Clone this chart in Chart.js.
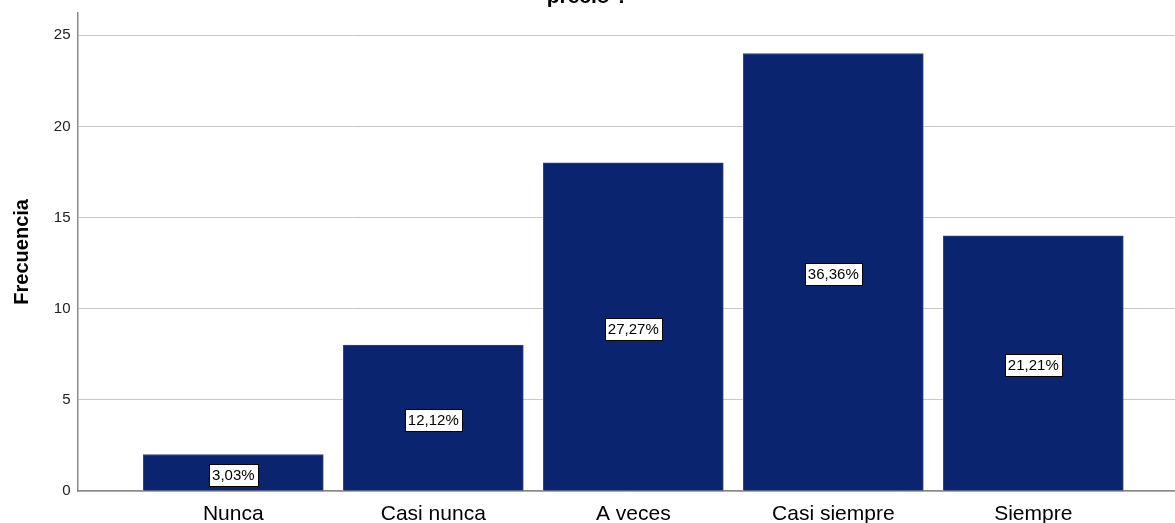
<!DOCTYPE html>
<html>
<head>
<meta charset="utf-8">
<script src="https://cdn.jsdelivr.net/npm/chart.js@4.4.1/dist/chart.umd.min.js"></script>
<style>
    html, body { margin: 0; padding: 0; background: #ffffff; overflow: hidden; }
    #wrap { position: absolute; left: 0; top: -13px; width: 1175px; height: 536px; }
</style>
</head>
<body>
<div id="wrap"><canvas id="freqChart"></canvas></div>
<script>
const categories = ["Nunca", "Casi nunca", "A veces", "Casi siempre", "Siempre"];
const frequencies = [2, 8, 18, 24, 14];
const percentLabels = ["3,03%", "12,12%", "27,27%", "36,36%", "21,21%"];
const yTicks = [0, 5, 10, 15, 20, 25];

const barColor = "#0b2470";
const barEdge = "#33468a";

/*
 * white boxed percentage in the middle of each bar
 */
const percentBoxes = {
    id: "percentBoxes",
    afterDatasetsDraw(chart) {
        const ctx = chart.ctx;
        const meta = chart.getDatasetMeta(0);
        ctx.save();
        ctx.font = "15px 'Liberation Sans'";
        ctx.textAlign = "center";
        ctx.textBaseline = "middle";
        meta.data.forEach((bar, i) => {
            const text = percentLabels[i];
            const cx = bar.x;
            const cy = (bar.y + bar.base) / 2 + 2;
            const w = Math.round(ctx.measureText(text).width + 6);
            const h = 22;
            const left = Math.round(cx - w / 2) + 0.5;
            const top = Math.round(cy - h / 2) + 0.5;
            ctx.fillStyle = "#ffffff";
            ctx.fillRect(left, top, w, h);
            ctx.strokeStyle = "#000000";
            ctx.lineWidth = 1;
            ctx.strokeRect(left, top, w, h);
            ctx.fillStyle = "#000000";
            ctx.fillText(text, cx, cy + 1);
        });
        ctx.restore();
    }
};

const ctx = document.getElementById("freqChart");

new Chart(ctx, {
    type: "bar",
    data: {
        datasets: [
            {
                data: frequencies.map((v, i) => ({ x: i, y: v })),
                backgroundColor: barColor,
                borderColor: barEdge,
                borderWidth: 1,
                barThickness: 180
            }
        ]
    },
    options: {
        responsive: true,
        maintainAspectRatio: false,
        animation: false,
        layout: { padding: 0 },
        plugins: {
            legend: { display: false },
            tooltip: { enabled: false },
            title: {
                display: true,
                text: "precio ?",
                color: "#000000",
                font: { family: "'Liberation Sans', Arial", size: 21, weight: "bold", lineHeight: 1.2 },
                padding: { top: -2, bottom: 2.5 }
            }
        },
        scales: {
            x: {
                type: "linear",
                offset: false,
                min: -0.779,
                max: 4.7085,
                grid: { display: false, offset: false },
                border: { display: true, color: "#8a8a8a", width: 1.5 },
                afterBuildTicks(axis) {
                    axis.ticks = categories.map((_, i) => ({ value: i }));
                },
                afterFit(scale) { scale.height = 32; },
                ticks: {
                    color: "#000000",
                    padding: 3,
                    maxRotation: 0,
                    autoSkip: false,
                    font: { family: "'Liberation Sans', Arial", size: 21 },
                    callback: (value) => categories[value]
                }
            },
            y: {
                min: 0,
                max: 26.24,
                grid: { color: "#c8c8c8", lineWidth: 1, drawTicks: false },
                border: { display: true, color: "#8a8a8a", width: 1.5 },
                afterBuildTicks(axis) {
                    axis.ticks = yTicks.map(v => ({ value: v }));
                },
                afterFit(scale) { scale.width = 77.5; },
                ticks: {
                    color: "#222222",
                    padding: 7,
                    font: { family: "'Liberation Sans', Arial", size: 15 }
                },
                title: {
                    display: true,
                    text: "Frecuencia",
                    color: "#000000",
                    font: { family: "'Liberation Sans', Arial", size: 20, weight: "bold", lineHeight: 1.2 },
                    padding: { top: 10, bottom: 0 }
                }
            }
        }
    },
    plugins: [percentBoxes]
});
</script>
</body>
</html>
